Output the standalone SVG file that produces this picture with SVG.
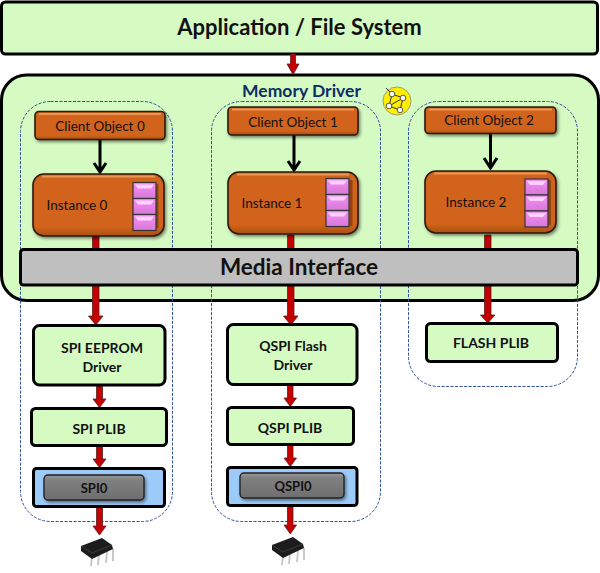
<svg xmlns="http://www.w3.org/2000/svg" width="600" height="573" viewBox="0 0 600 573">
<style>
text{font-family:Lato,"Liberation Sans",sans-serif;fill:#111}
.g{fill:#d5fbc2;stroke:#000;stroke-width:3}
.dash{fill:none;stroke:#2f4f9f;stroke-width:1;stroke-dasharray:3 1.5}
.o{fill:url(#og);stroke:#2a1a0a;stroke-width:1.6;filter:url(#sh)}
.hi{fill:none;stroke:#f0a060;stroke-width:2;opacity:.85}
.lo{fill:none;stroke:#7a3a0c;stroke-width:3;opacity:.75}
.lbl{font-size:13.5px;text-anchor:middle}
.b{font-weight:700;font-size:14px;text-anchor:middle}
.red{fill:#c40000;stroke:#5a2020;stroke-width:.8}
.blk{fill:none;stroke:#000;stroke-width:3}
.pk{fill:url(#pg);stroke:#333;stroke-width:1.2}
.pkh{fill:#fdd0fd}
.gr{fill:url(#gg);stroke:#222;stroke-width:1.4;filter:url(#sh)}
.blue{fill:#9ccbfa;stroke:#000;stroke-width:3}
.pin{stroke:#c4c4c4;stroke-width:1.8;fill:none}
</style>
<defs>
<linearGradient id="og" x1="0" y1="0" x2="0" y2="1"><stop offset="0" stop-color="#d2641a"/><stop offset=".85" stop-color="#d2641a"/><stop offset="1" stop-color="#a85012"/></linearGradient>
<linearGradient id="pg" x1="0" y1="0" x2="0" y2="1"><stop offset="0" stop-color="#f590f5"/><stop offset="1" stop-color="#d878d8"/></linearGradient>
<linearGradient id="gg" x1="0" y1="0" x2="0" y2="1"><stop offset="0" stop-color="#9a9a9a"/><stop offset=".2" stop-color="#808080"/><stop offset="1" stop-color="#6e6e6e"/></linearGradient>
<filter id="sh" x="-10%" y="-10%" width="125%" height="135%"><feDropShadow dx="1.5" dy="2" stdDeviation="1.5" flood-color="#000" flood-opacity=".45"/></filter>
<g id="stack">
<rect class="pk" width="23" height="16"/><path class="pkh" d="M2 2H21L18 6H5Z"/>
<rect class="pk" y="16" width="23" height="16"/><path class="pkh" d="M2 18H21L18 22H5Z"/>
<rect class="pk" y="32" width="23" height="16"/><path class="pkh" d="M2 34H21L18 38H5Z"/>
</g>
<g id="chip">
<path class="pin" d="M11 18 10 28M18 16 17 27M26 13 25 25M32 11 32 23"/>
<path d="M0 8 21 0 31 7 32 11 11 21 0 13Z" fill="#1c1c1c"/>
<path d="M0 8 11 15 31 7" fill="none" stroke="#4a4a4a" stroke-width=".7"/>
</g>
</defs>

<g id="app"><rect class="g" x="1.500" y="2" width="596" height="52" rx="4"/>
<text x="299.500" y="35" text-anchor="middle" style="font-weight:700;font-size:22px">Application / File System</text></g>

<g id="memory-driver"><rect x="1.500" y="75" width="597" height="225.500" rx="25" fill="#d5fbc2" stroke="#000" stroke-width="3"/>
<text x="301.500" y="97" text-anchor="middle" style="font-weight:700;font-size:17.500px;fill:#0d2c66">Memory Driver</text></g>

<g id="dashed-groups"><rect class="dash" x="20.500" y="101.500" width="152" height="420" rx="30"/><rect class="dash" x="211.500" y="101.500" width="169" height="420" rx="30"/><rect class="dash" x="408.500" y="101.500" width="169" height="285" rx="30"/></g>

<g id="icon"><circle cx="397" cy="101" r="14" fill="#ffee00" stroke="#888" stroke-width=".8"/>
<path d="M386 88 392 94M392 94 403 98 389 106 400 110 403 98M392 94 389 106" stroke="#333" stroke-width="1" fill="none"/>
<g fill="#fff" stroke="#333" stroke-width=".8"><circle cx="392" cy="94" r="2.800"/><circle cx="403" cy="98" r="2.800"/><circle cx="389" cy="106" r="2.800"/><circle cx="400" cy="110" r="2.800"/></g></g>

<g id="connectors">
<path class="red" d="M290.500 54H295.500V64H299L293 74.500 287 64H290.500Z"/>
<g class="blk"><path d="M100 139V172M94 163 100 172 106 163"/><path d="M294 135V170M288 161 294 170 300 161"/><path d="M490.500 133V168M484 158 490.500 168 497 158"/></g>
<path class="red" d="M92.500 235H99V249H92.500ZM92.500 285H99V316H103L95.800 325 88.500 316H92.500Z"/>
<path class="red" d="M287.500 235H294V249H287.500ZM287.500 285H294V316H298L290.800 325 283.500 316H287.500Z"/>
<path class="red" d="M484.500 235H491V249H484.500ZM484.500 285H491V315H495L487.800 323 480.500 315H484.500Z"/>
<path class="red" d="M96.500 385H102.500V399H106L99.500 407.500 93 399H96.500Z"/>
<path class="red" d="M96.500 446H102.500V459H106L99.500 467.500 93 459H96.500Z"/>
<path class="red" d="M96.500 507H102.500V526H106L99.500 535 93 526H96.500Z"/>
<path class="red" d="M287.500 384H293V398H296.500L290.300 406.500 284 398H287.500Z"/>
<path class="red" d="M287.500 445H293V458H296.500L290.300 466.500 284 458H287.500Z"/>
<path class="red" d="M287.500 506H293V525H296.500L290.300 534 284 525H287.500Z"/>
</g>

<g id="client0"><rect class="o" x="35" y="111.500" width="130" height="28" rx="4"/><path class="hi" d="M39 114H161"/><text class="lbl" x="100" y="131">Client Object 0</text></g>
<g id="instance0"><rect class="o" x="33" y="174" width="131" height="62" rx="11"/><path class="hi" d="M42 176.500H155"/><path class="lo" d="M157 184V228"/><use href="#stack" x="133" y="182.500"/><text class="lbl" x="77" y="210">Instance 0</text></g>
<g id="client1"><rect class="o" x="228" y="107" width="130" height="28" rx="4"/><path class="hi" d="M232 109.500H354"/><text class="lbl" x="293" y="126.500">Client Object 1</text></g>
<g id="instance1"><rect class="o" x="228" y="172" width="130" height="62" rx="11"/><path class="hi" d="M237 174.500H349"/><path class="lo" d="M351 180V226"/><use href="#stack" x="326" y="178.500"/><text class="lbl" x="272" y="208">Instance 1</text></g>
<g id="client2"><rect class="o" x="425" y="107" width="131" height="26.500" rx="4"/><path class="hi" d="M429 109.500H552"/><text class="lbl" x="489" y="125">Client Object 2</text></g>
<g id="instance2"><rect class="o" x="425" y="171" width="131" height="62" rx="11"/><path class="hi" d="M434 173.500H547"/><path class="lo" d="M549.500 180V225"/><use href="#stack" x="525" y="179"/><text class="lbl" x="476" y="207">Instance 2</text></g>

<g id="media"><rect x="20.500" y="249.500" width="557" height="35.500" rx="3" fill="#bfbfbf" stroke="#000" stroke-width="3"/>
<text x="299" y="275" text-anchor="middle" style="font-weight:700;font-size:22.500px">Media Interface</text></g>

<g id="spi-eeprom"><rect class="g" x="33.500" y="325.500" width="131.500" height="59.500" rx="6"/><text class="b" x="102" y="353">SPI EEPROM</text><text class="b" x="102" y="372">Driver</text></g>
<g id="spi-plib"><rect class="g" x="31.500" y="408.500" width="135" height="37" rx="4"/><text class="b" x="99" y="434">SPI PLIB</text></g>
<g id="spi0"><rect class="blue" x="33.500" y="468.500" width="131" height="38" rx="3"/><rect class="gr" x="44" y="475" width="100" height="25" rx="4"/><text class="b" x="94" y="493" style="font-size:13px">SPI0</text></g>
<g id="chip0"><use href="#chip" x="81" y="538"/></g>

<g id="qspi-flash"><rect class="g" x="227.500" y="324.500" width="129.500" height="60" rx="6"/><text class="b" x="293" y="351">QSPI Flash</text><text class="b" x="293" y="370">Driver</text></g>
<g id="qspi-plib"><rect class="g" x="227.500" y="407.500" width="126" height="37" rx="4"/><text class="b" x="290" y="433">QSPI PLIB</text></g>
<g id="qspi0"><rect class="blue" x="227.500" y="467.500" width="129.500" height="38" rx="3"/><rect class="gr" x="240" y="473" width="104" height="25" rx="4"/><text class="b" x="293" y="491" style="font-size:13px">QSPI0</text></g>
<g id="chip1"><use href="#chip" x="272" y="537"/></g>

<g id="flash-plib"><rect class="g" x="426.500" y="323.500" width="131" height="38" rx="4"/><text class="b" x="491" y="348">FLASH PLIB</text></g>
</svg>
